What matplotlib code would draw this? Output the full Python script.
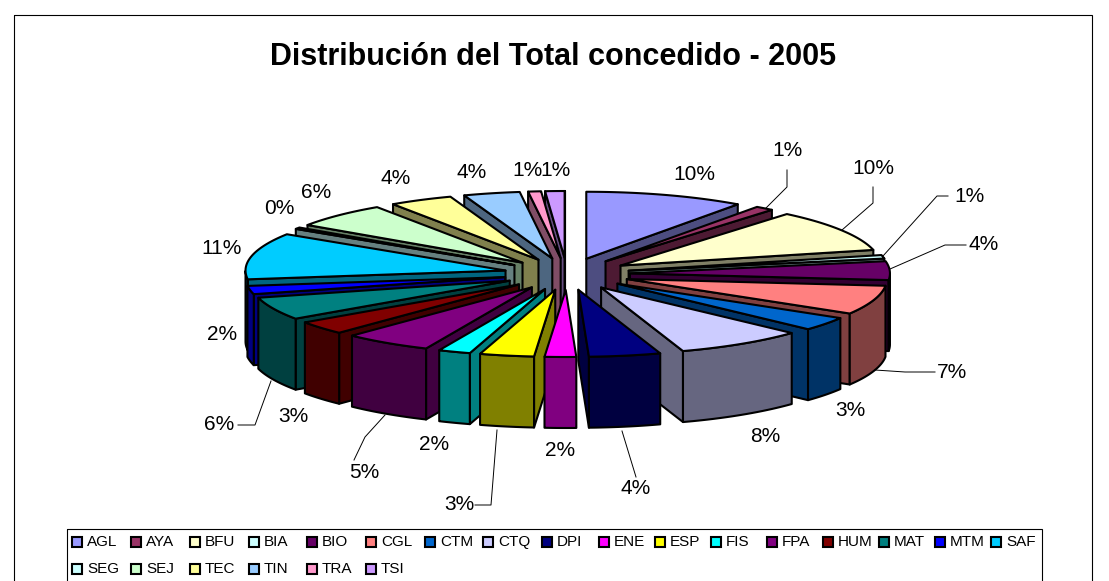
import numpy as np
import matplotlib
matplotlib.use("Agg")
import matplotlib.pyplot as plt
from matplotlib.patches import Polygon, Rectangle
from matplotlib.colors import to_rgb

plt.rcParams["font.family"] = ["Liberation Sans", "DejaVu Sans"]

# ── data ─────────────────────────────────────────────────────
codes = ["AGL", "AYA", "BFU", "BIA", "BIO", "CGL", "CTM", "CTQ", "DPI", "ENE", "ESP", "FIS",
         "FPA", "HUM", "MAT", "MTM", "SAF", "SEG", "SEJ", "TEC", "TIN", "TRA", "TSI"]
shares = [9.9, 1.15, 10.2, 0.85, 4.5, 7.0, 3.3, 8.0, 4.45, 1.95, 3.37, 2.0,
          5.49, 3.24, 5.5, 2.0, 11.2, 0.4, 6.05, 3.95, 3.5, 0.8, 1.2]
colours = ["#9999FF", "#993366", "#FFFFCC", "#CCFFFF", "#660066", "#FF8080", "#0066CC", "#CCCCFF",
           "#000080", "#FF00FF", "#FFFF00", "#00FFFF", "#800080", "#800000", "#008080", "#0000FF",
           "#00CCFF", "#CCFFFF", "#CCFFCC", "#FFFF99", "#99CCFF", "#FF99CC", "#CC99FF"]
title = "Distribución del Total concedido - 2005"

# ── layout, all in reference pixels ──────────────────────────
CX, CY = 567, 274
RX, RY = 260, 67
EX, EY = 63, 16
DEPTH = 71
LW = 1.5

label_xy = [(694, 174), (787, 150), (873, 168), (969, 197), (984, 245), (952, 372), (850, 410),
            (765, 436), (636, 489), (560, 451), (459, 504), (434, 444), (364, 473), (293, 416),
            (219, 425), (222, 334), (222, 249), (279, 209), (316, 192), (396, 178), (472, 172),
            (527, 170), (555, 170)]
leaders = {
    "AYA": [(787, 170), (787, 187), (766, 208)],
    "BFU": [(873, 187), (873, 203), (842, 230)],
    "BIA": [(948, 196), (937, 196), (883, 256)],
    "BIO": [(966, 245), (945, 245), (890, 269)],
    "CGL": [(935, 372), (905, 372), (875, 370)],
    "DPI": [(636, 477), (622, 431)],
    "ESP": [(475, 505), (491, 505), (497, 430)],
    "FPA": [(354, 460), (365, 437), (385, 415)],
    "MAT": [(238, 425), (255, 425), (271, 381)],
}
legend_x = [72, 131, 190, 249, 307, 366, 425, 483, 542, 599, 655, 711, 767, 823, 879, 935, 991]


def shade(c):
    return tuple(0.5 * v for v in to_rgb(c))


fig = plt.figure(figsize=(11.09, 5.81), dpi=100)
ax = fig.add_axes([0, 0, 1, 1])
ax.set_xlim(0, 1109)
ax.set_ylim(581, 0)
ax.axis("off")

# ── slices, back to front ────────────────────────────────────
edges = np.cumsum([0] + shares) / sum(shares) * 2 * np.pi
mids = (edges[:-1] + edges[1:]) / 2
order = np.argsort(-np.cos(mids))


def wall(pts, col, z):
    low = [(x, y + DEPTH) for x, y in pts[::-1]]
    ax.add_patch(Polygon(list(pts) + low, fc=col, ec="k", lw=LW, joinstyle="round", zorder=z))


for rank, i in enumerate(order):
    a0, a1, m = edges[i], edges[i + 1], mids[i]
    apex = (CX + EX * np.sin(m), CY - EY * np.cos(m))
    t = np.linspace(a0, a1, 40)
    arc = np.column_stack([apex[0] + RX * np.sin(t), apex[1] - RY * np.cos(t)])
    z = 2 + rank
    dark = shade(colours[i])

    # radial cut faces, only those turned to the viewer
    if arc[0, 0] < apex[0]:
        wall([apex, tuple(arc[0])], dark, z)
    if arc[-1, 0] > apex[0]:
        wall([apex, tuple(arc[-1])], dark, z)
    # rim
    front = np.cos(t) < 0
    if front.any():
        wall([tuple(p) for p in arc[front]], dark, z)
    ax.add_patch(Polygon([apex] + [tuple(p) for p in arc], fc=colours[i], ec="k", lw=LW,
                         joinstyle="round", zorder=z))

# ── labels and leader lines ──────────────────────────────────
for code, v, (x, y) in zip(codes, shares, label_xy):
    ax.text(x, y, f"{v:.0f}%", fontsize=15, ha="center", va="center", color="k", zorder=60)
for pts in leaders.values():
    xs, ys = zip(*pts)
    ax.plot(xs, ys, color="k", lw=0.7, zorder=59)

ax.text(553, 57, title, fontsize=22, fontweight="bold", ha="center", va="center")

# ── frame and legend ─────────────────────────────────────────
ax.add_patch(Rectangle((14, 15), 1078, 600, fc="none", ec="k", lw=0.8, zorder=1))
ax.add_patch(Rectangle((67, 529), 975, 60, fc="none", ec="k", lw=0.8, zorder=1))
for n, (code, col) in enumerate(zip(codes, colours)):
    row = n // 17
    x = legend_x[n % 17]
    y = 542 + 27 * row
    ax.add_patch(Rectangle((x, y - 5), 10, 10, fc=col, ec="k", lw=1.5, zorder=3))
    ax.text(x + 15, y, code, fontsize=11, ha="left", va="center", zorder=3)

fig.savefig("out.png", dpi=100)
